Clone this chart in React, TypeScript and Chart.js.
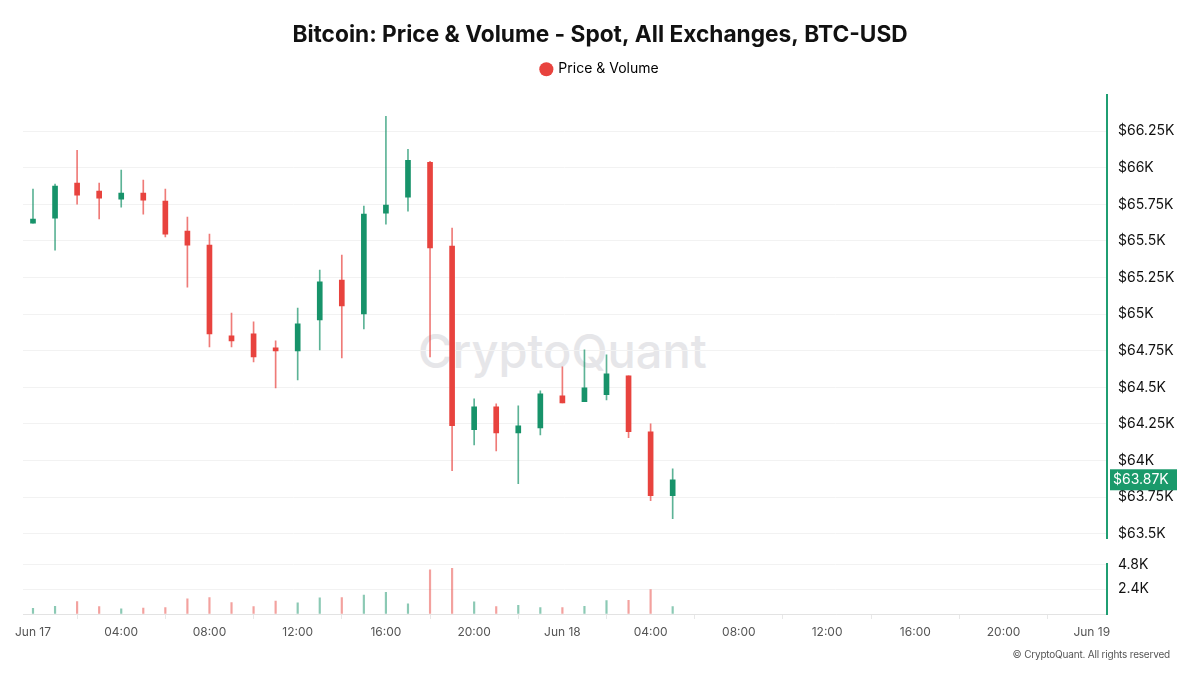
import React, { useEffect, useRef } from 'react';
import { Chart, registerables } from 'chart.js';

Chart.register(...registerables);

// ---- data ----
const hours = [0, 1, 2, 3, 4, 5, 6, 7, 8, 9, 10, 11, 12, 13, 14, 15, 16, 17, 18, 19, 20, 21, 22, 23, 24, 25, 26, 27, 28, 29];
const opens = [65622, 65656, 65895, 65841, 65786, 65827, 65772, 65568, 65472, 64851, 64865, 64769, 64749, 64960, 65233, 65001, 65690, 65800, 66038, 65465, 64210, 64367, 64189, 64223, 64442, 64401, 64449, 64578, 64196, 63759];
const highs = [65854, 65888, 66120, 65895, 65984, 65916, 65854, 65663, 65547, 65008, 64947, 64817, 65042, 65301, 65404, 65738, 66352, 66127, 66045, 65588, 64421, 64387, 64373, 64476, 64640, 64756, 64722, 64578, 64250, 63943];
const lows = [65622, 65438, 65752, 65650, 65731, 65684, 65527, 65185, 64776, 64776, 64674, 64496, 64551, 64756, 64701, 64899, 65615, 65704, 64708, 63930, 64107, 64066, 63841, 64175, 64394, 64401, 64414, 64155, 63725, 63602];
const closes = [65650, 65875, 65813, 65793, 65827, 65779, 65547, 65472, 64865, 64817, 64708, 64749, 64933, 65220, 65056, 65684, 65745, 66052, 65452, 64237, 64367, 64189, 64237, 64455, 64394, 64496, 64592, 64196, 63759, 63868];
const volumes = [550, 740, 1200, 710, 490, 580, 615, 1480, 1600, 1110, 710, 1260, 1080, 1570, 1600, 1820, 2090, 990, 4280, 4430, 1170, 710, 830, 615, 615, 740, 1290, 1320, 2370, 710];

const priceTicks = [63500, 63750, 64000, 64250, 64500, 64750, 65000, 65250, 65500, 65750, 66000, 66250];
const volumeTicks = [0, 2400, 4800];
const timeTickHours = [0, 4, 8, 12, 16, 20, 24, 28, 32, 36, 40, 44, 48];
const timeTickLabels = ['Jun 17', '04:00', '08:00', '12:00', '16:00', '20:00', 'Jun 18', '04:00', '08:00', '12:00', '16:00', '20:00', 'Jun 19'];

const TITLE = 'Bitcoin: Price & Volume - Spot, All Exchanges, BTC-USD';
const LEGEND_LABEL = 'Price & Volume';

// ---- styles ----
const UP = '#17936a';
const DOWN = '#e8433e';
const UP_WICK = 'rgba(23,147,106,0.7)';
const DOWN_WICK = 'rgba(232,67,62,0.7)';
const UP_VOL = 'rgba(23,147,106,0.5)';
const DOWN_VOL = 'rgba(232,67,62,0.5)';
const AXIS_GREEN = '#1f9e72';
const FONT = 'Inter, "Noto Sans", sans-serif';
const X_MIN = -0.453;
const X_MAX = 48.69;
const PRICE_MIN = 63466;
const PRICE_MAX = 66496;
const LEGEND_EXTRA = 9;

const isUp = (i: number) => closes[i] >= opens[i];

const priceTag = {
  id: 'priceTag',
  afterDraw(chart: any) {
    const y = chart.scales.y;
    const last = closes[closes.length - 1];
    const py = y.getPixelForValue(last);
    const ctx = chart.ctx;
    const x0 = chart.chartArea.right + 3;
    ctx.save();
    ctx.fillStyle = '#1a9a6b';
    ctx.fillRect(x0, py - 10.5, 67, 21);
    ctx.fillStyle = '#ffffff';
    ctx.font = `14px ${FONT}`;
    ctx.textAlign = 'left';
    ctx.textBaseline = 'middle';
    ctx.fillText('$' + (last / 1000).toFixed(2) + 'K', x0 + 3, py + 0.5);
    ctx.restore();
  },
};

const legendSpacer = {
  id: 'legendSpacer',
  afterInit(chart: any) {
    const legend = chart.legend;
    if (!legend) return;
    const orig = legend.fit;
    legend.fit = function () {
      orig.call(this);
      this.height += LEGEND_EXTRA;
    };
  },
};

const leftSpacerAxis = {
  type: 'linear',
  position: 'left',
  display: true,
  grid: { display: false, drawTicks: false },
  border: { display: false },
  ticks: { display: false },
  afterFit: (s: any) => {
    s.width = 23;
  },
};

export default function App() {
  const priceRef = useRef<HTMLCanvasElement>(null);
  const volRef = useRef<HTMLCanvasElement>(null);

  useEffect(() => {
    Chart.defaults.font.family = FONT;
    const priceChart = new Chart(priceRef.current as HTMLCanvasElement, {
      type: 'bar',
      data: {
        datasets: [
          {
            label: LEGEND_LABEL,
            data: hours.map((h, i) => ({ x: h, y: [opens[i], closes[i]] })) as any,
            backgroundColor: hours.map((_, i) => (isUp(i) ? UP : DOWN)),
            barThickness: 5,
            minBarLength: 2,
            grouped: false,
            borderWidth: 0,
            xAxisID: 'x',
            yAxisID: 'y',
          } as any,
          {
            label: 'wick',
            data: hours.map((h, i) => ({ x: h, y: [lows[i], highs[i]] })) as any,
            backgroundColor: hours.map((_, i) => (isUp(i) ? UP_WICK : DOWN_WICK)),
            barThickness: 1,
            grouped: false,
            borderWidth: 0,
            xAxisID: 'x',
            yAxisID: 'y',
          } as any,
        ],
      },
      options: {
        responsive: true,
        maintainAspectRatio: false,
        animation: false,
        layout: { padding: { left: 0, right: 0, top: 0, bottom: 0 } },
        plugins: {
          title: {
            display: true,
            text: TITLE,
            color: '#111',
            font: { size: 22.7, weight: 'bold', family: FONT },
            padding: { top: 22, bottom: 3 },
          },
          legend: {
            display: true,
            onClick: () => {},
            labels: {
              usePointStyle: true,
              boxWidth: 10,
              boxHeight: 10,
              color: '#222',
              font: { size: 14, family: FONT },
              generateLabels: () => [
                {
                  text: LEGEND_LABEL,
                  fillStyle: DOWN,
                  strokeStyle: DOWN,
                  lineWidth: 0,
                  pointStyle: 'circle',
                  hidden: false,
                  datasetIndex: 0,
                } as any,
              ],
            },
          },
          tooltip: { enabled: false },
        },
        scales: {
          x: { type: 'linear', min: X_MIN, max: X_MAX, offset: false, display: false },
          y: {
            type: 'linear',
            position: 'right',
            min: PRICE_MIN,
            max: PRICE_MAX,
            afterBuildTicks: (s: any) => {
              s.ticks = priceTicks.map((v) => ({ value: v }));
            },
            afterFit: (s: any) => {
              s.width = 93;
            },
            grid: { color: '#f2f2f2', drawTicks: false },
            border: { display: true, color: AXIS_GREEN, width: 2 },
            ticks: {
              padding: 11,
              color: '#111',
              font: { size: 14 },
              callback: (v: any) => '$' + Number(v) / 1000 + 'K',
            },
          } as any,
          yLeft: leftSpacerAxis as any,
        },
      },
      plugins: [priceTag, legendSpacer],
    });

    const volChart = new Chart(volRef.current as HTMLCanvasElement, {
      type: 'bar',
      data: {
        datasets: [
          {
            label: 'Volume',
            data: hours.map((h, i) => ({ x: h, y: volumes[i] })) as any,
            backgroundColor: hours.map((_, i) => (isUp(i) ? UP_VOL : DOWN_VOL)),
            barThickness: 1.5,
            borderWidth: 0,
          } as any,
        ],
      },
      options: {
        responsive: true,
        maintainAspectRatio: false,
        animation: false,
        layout: { padding: { left: 23, right: 0, top: 17, bottom: 0 } },
        plugins: { legend: { display: false }, title: { display: false }, tooltip: { enabled: false } },
        scales: {
          x: {
            type: 'linear',
            min: X_MIN,
            max: X_MAX,
            offset: false,
            afterBuildTicks: (s: any) => {
              s.ticks = timeTickHours.map((v) => ({ value: v }));
            },
            afterFit: (s: any) => {
              s.height = 61;
            },
            grid: { drawOnChartArea: false, drawTicks: true, tickLength: 5, color: '#e8e8e8' },
            border: { display: true, color: '#e3e3e3' },
            ticks: {
              autoSkip: false,
              maxRotation: 0,
              padding: 6,
              color: '#555',
              font: { size: 12 },
              callback: (v: any) => timeTickLabels[timeTickHours.indexOf(Number(v))],
            },
          } as any,
          y: {
            type: 'linear',
            position: 'right',
            min: 0,
            max: 4800,
            afterBuildTicks: (s: any) => {
              s.ticks = volumeTicks.map((v) => ({ value: v }));
            },
            afterFit: (s: any) => {
              s.width = 93;
            },
            grid: { color: '#f2f2f2', drawTicks: false },
            border: { display: true, color: AXIS_GREEN, width: 2 },
            ticks: {
              padding: 11,
              color: '#111',
              font: { size: 14 },
              callback: (v: any) => (Number(v) === 0 ? '' : (Number(v) / 1000).toFixed(1) + 'K'),
            },
          } as any,
        },
      },
    });

    return () => {
      priceChart.destroy();
      volChart.destroy();
    };
  }, []);

  return (
    <div style={{ position: 'fixed', left: 0, top: 0, width: 1200, height: 675, background: '#fff', overflow: 'hidden', fontFamily: FONT }}>
      <div
        style={{
          position: 'absolute',
          left: 418,
          top: 322,
          fontSize: 47,
          fontWeight: 500,
          color: '#e6e6e9',
          pointerEvents: 'none',
          whiteSpace: 'nowrap',
        }}
      >
        CryptoQuant
      </div>
      <div style={{ position: 'absolute', left: 0, top: 545, width: 1200, height: 130 }}>
        <canvas ref={volRef} />
      </div>
      <div style={{ position: 'absolute', left: 0, top: 0, width: 1200, height: 558 }}>
        <canvas ref={priceRef} />
      </div>
      <div
        style={{
          position: 'absolute',
          right: 30,
          top: 648,
          fontSize: 10,
          letterSpacing: -0.2,
          color: '#555',
          whiteSpace: 'nowrap',
        }}
      >
        © CryptoQuant. All rights reserved
      </div>
    </div>
  );
}
